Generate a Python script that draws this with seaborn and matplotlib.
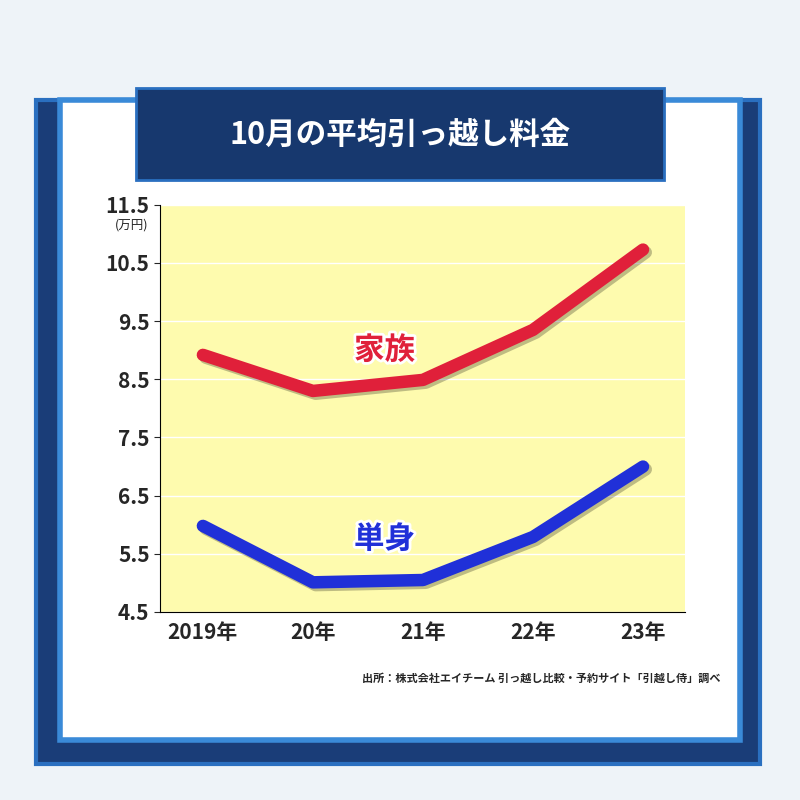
import matplotlib
matplotlib.use("Agg")
import matplotlib.pyplot as plt
import matplotlib.patches as mp
import matplotlib.patheffects as pe
import seaborn as sns
import pandas as pd

years = ["2019年", "20年", "21年", "22年", "23年"]
family = [8.92, 8.3, 8.49, 9.35, 10.73]
single = [5.98, 5.01, 5.05, 5.79, 7.0]
yticks = [4.5, 5.5, 6.5, 7.5, 8.5, 9.5, 10.5, 11.5]

sns.set_style("white")
plt.rcParams['font.family'] = ['Noto Sans CJK JP', 'DejaVu Sans']

fig = plt.figure(figsize=(8, 8), dpi=100)
fig.patch.set_facecolor("#eef3f8")
fig.patches.append(mp.Rectangle((0.045, 0.045), 0.905, 0.83, transform=fig.transFigure, facecolor="#1a3d78", edgecolor="#2a6fc0", lw=3, zorder=0))
fig.patches.append(mp.Rectangle((0.075, 0.075), 0.85, 0.80, transform=fig.transFigure, facecolor="white", edgecolor="#3a8ad8", lw=4, zorder=1))
fig.patches.append(mp.Rectangle((0.17, 0.775), 0.66, 0.115, transform=fig.transFigure, facecolor="#17386e", edgecolor="#2a6fc0", lw=2, zorder=2))
fig.text(0.5, 0.832, "10月の平均引っ越し料金", color="white", fontsize=22, fontweight="bold", ha="center", va="center", zorder=3)

ax = fig.add_axes([0.2, 0.235, 0.656, 0.509], zorder=4)
ax.set_facecolor("#fefbae")
df = pd.DataFrame({"x": list(range(5)) * 2, "v": family + single, "s": ["家族"] * 5 + ["単身"] * 5})
sns.lineplot(data=df, x="x", y="v", hue="s", palette={"家族": "#e0203a", "単身": "#2030d8"}, lw=9, ax=ax, legend=False,
             path_effects=[pe.SimpleLineShadow(offset=(2, -2), alpha=0.25), pe.Normal()], solid_capstyle="round")
ax.set_xlim(-0.39, 4.38)
ax.set_ylim(4.5, 11.5)
ax.set_yticks(yticks)
ax.set_yticklabels([str(t) for t in yticks], fontsize=15, fontweight="bold")
ax.set_xticks(range(5))
ax.set_xticklabels(years, fontsize=15, fontweight="bold")
ax.grid(axis="y", color="white", lw=1)
for s in ["top", "right"]:
    ax.spines[s].set_visible(False)
ax.spines["left"].set_color("black")
ax.spines["bottom"].set_color("black")
ax.tick_params(axis="y", length=4, direction="out", left=True)
ax.set_xlabel(""); ax.set_ylabel("")
ax.text(-0.5, 11.15, "(万円)", fontsize=9, ha="right", va="center")
ax.text(1.65, 9.0, "家族", color="#e0203a", fontsize=22, fontweight="bold", ha="center", va="center",
        path_effects=[pe.withStroke(linewidth=4, foreground="white")])
ax.text(1.65, 5.75, "単身", color="#2030d8", fontsize=22, fontweight="bold", ha="center", va="center",
        path_effects=[pe.withStroke(linewidth=4, foreground="white")])
fig.text(0.9, 0.152, "出所：株式会社エイチーム 引っ越し比較・予約サイト「引越し侍」調べ", fontsize=8, ha="right", va="center", fontweight="bold", zorder=5)
fig.savefig("out.png", dpi=100)
